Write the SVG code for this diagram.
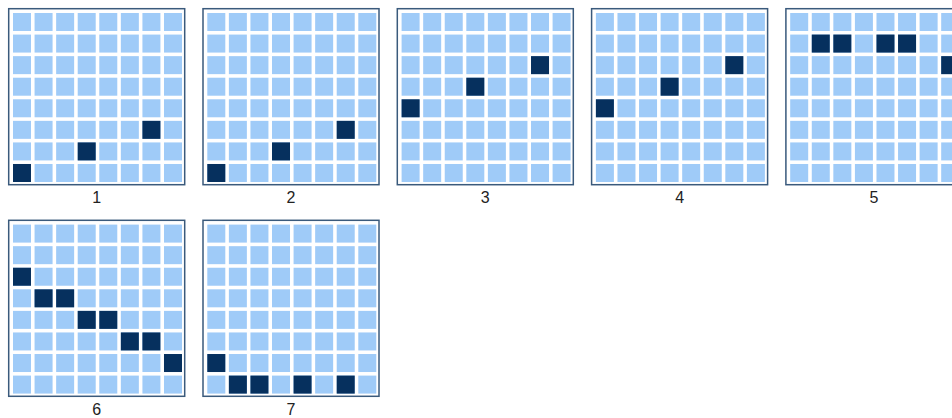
<svg xmlns="http://www.w3.org/2000/svg" xmlns:xlink="http://www.w3.org/1999/xlink" width="952" height="418" viewBox="0 0 952 418">
<style>
.frame{fill:#ffffff;stroke:#3a5a7c;stroke-width:1.5}
.c{fill:#9fcbf8}
.d{fill:#06305e}
.lbl{font-family:"Liberation Sans",Arial,sans-serif;font-size:16px;fill:#222222;text-anchor:middle}
</style>
<defs>
<g id="cells">
<rect class="c" x="4.3" y="4.3" width="18" height="18"/><rect class="c" x="25.87" y="4.3" width="18" height="18"/><rect class="c" x="47.44" y="4.3" width="18" height="18"/><rect class="c" x="69.01" y="4.3" width="18" height="18"/><rect class="c" x="90.58" y="4.3" width="18" height="18"/><rect class="c" x="112.15" y="4.3" width="18" height="18"/><rect class="c" x="133.72" y="4.3" width="18" height="18"/><rect class="c" x="155.29" y="4.3" width="18" height="18"/>
<rect class="c" x="4.3" y="25.87" width="18" height="18"/><rect class="c" x="25.87" y="25.87" width="18" height="18"/><rect class="c" x="47.44" y="25.87" width="18" height="18"/><rect class="c" x="69.01" y="25.87" width="18" height="18"/><rect class="c" x="90.58" y="25.87" width="18" height="18"/><rect class="c" x="112.15" y="25.87" width="18" height="18"/><rect class="c" x="133.72" y="25.87" width="18" height="18"/><rect class="c" x="155.29" y="25.87" width="18" height="18"/>
<rect class="c" x="4.3" y="47.44" width="18" height="18"/><rect class="c" x="25.87" y="47.44" width="18" height="18"/><rect class="c" x="47.44" y="47.44" width="18" height="18"/><rect class="c" x="69.01" y="47.44" width="18" height="18"/><rect class="c" x="90.58" y="47.44" width="18" height="18"/><rect class="c" x="112.15" y="47.44" width="18" height="18"/><rect class="c" x="133.72" y="47.44" width="18" height="18"/><rect class="c" x="155.29" y="47.44" width="18" height="18"/>
<rect class="c" x="4.3" y="69.01" width="18" height="18"/><rect class="c" x="25.87" y="69.01" width="18" height="18"/><rect class="c" x="47.44" y="69.01" width="18" height="18"/><rect class="c" x="69.01" y="69.01" width="18" height="18"/><rect class="c" x="90.58" y="69.01" width="18" height="18"/><rect class="c" x="112.15" y="69.01" width="18" height="18"/><rect class="c" x="133.72" y="69.01" width="18" height="18"/><rect class="c" x="155.29" y="69.01" width="18" height="18"/>
<rect class="c" x="4.3" y="90.58" width="18" height="18"/><rect class="c" x="25.87" y="90.58" width="18" height="18"/><rect class="c" x="47.44" y="90.58" width="18" height="18"/><rect class="c" x="69.01" y="90.58" width="18" height="18"/><rect class="c" x="90.58" y="90.58" width="18" height="18"/><rect class="c" x="112.15" y="90.58" width="18" height="18"/><rect class="c" x="133.72" y="90.58" width="18" height="18"/><rect class="c" x="155.29" y="90.58" width="18" height="18"/>
<rect class="c" x="4.3" y="112.15" width="18" height="18"/><rect class="c" x="25.87" y="112.15" width="18" height="18"/><rect class="c" x="47.44" y="112.15" width="18" height="18"/><rect class="c" x="69.01" y="112.15" width="18" height="18"/><rect class="c" x="90.58" y="112.15" width="18" height="18"/><rect class="c" x="112.15" y="112.15" width="18" height="18"/><rect class="c" x="133.72" y="112.15" width="18" height="18"/><rect class="c" x="155.29" y="112.15" width="18" height="18"/>
<rect class="c" x="4.3" y="133.72" width="18" height="18"/><rect class="c" x="25.87" y="133.72" width="18" height="18"/><rect class="c" x="47.44" y="133.72" width="18" height="18"/><rect class="c" x="69.01" y="133.72" width="18" height="18"/><rect class="c" x="90.58" y="133.72" width="18" height="18"/><rect class="c" x="112.15" y="133.72" width="18" height="18"/><rect class="c" x="133.72" y="133.72" width="18" height="18"/><rect class="c" x="155.29" y="133.72" width="18" height="18"/>
<rect class="c" x="4.3" y="155.29" width="18" height="18"/><rect class="c" x="25.87" y="155.29" width="18" height="18"/><rect class="c" x="47.44" y="155.29" width="18" height="18"/><rect class="c" x="69.01" y="155.29" width="18" height="18"/><rect class="c" x="90.58" y="155.29" width="18" height="18"/><rect class="c" x="112.15" y="155.29" width="18" height="18"/><rect class="c" x="133.72" y="155.29" width="18" height="18"/><rect class="c" x="155.29" y="155.29" width="18" height="18"/>
</g>
<rect id="frame" class="frame" x="0" y="0" width="176" height="176"/>
</defs>
<rect x="0" y="0" width="952" height="418" fill="#ffffff"/>
<g id="connectors"/>
<g id="panel1" transform="translate(8.7,8.7)">
<use xlink:href="#frame" href="#frame"/><use xlink:href="#cells" href="#cells"/>
<rect class="d" x="4.3" y="155.29" width="18" height="18"/><rect class="d" x="69.01" y="133.72" width="18" height="18"/><rect class="d" x="133.72" y="112.15" width="18" height="18"/>
<text class="lbl" x="88" y="194">1</text>
</g>
<g id="panel2" transform="translate(203,8.7)">
<use xlink:href="#frame" href="#frame"/><use xlink:href="#cells" href="#cells"/>
<rect class="d" x="4.3" y="155.29" width="18" height="18"/><rect class="d" x="69.01" y="133.72" width="18" height="18"/><rect class="d" x="133.72" y="112.15" width="18" height="18"/>
<text class="lbl" x="88" y="194">2</text>
</g>
<g id="panel3" transform="translate(397.3,8.7)">
<use xlink:href="#frame" href="#frame"/><use xlink:href="#cells" href="#cells"/>
<rect class="d" x="133.72" y="47.44" width="18" height="18"/><rect class="d" x="69.01" y="69.01" width="18" height="18"/><rect class="d" x="4.3" y="90.58" width="18" height="18"/>
<text class="lbl" x="88" y="194">3</text>
</g>
<g id="panel4" transform="translate(591.6,8.7)">
<use xlink:href="#frame" href="#frame"/><use xlink:href="#cells" href="#cells"/>
<rect class="d" x="133.72" y="47.44" width="18" height="18"/><rect class="d" x="69.01" y="69.01" width="18" height="18"/><rect class="d" x="4.3" y="90.58" width="18" height="18"/>
<text class="lbl" x="88" y="194">4</text>
</g>
<g id="panel5" transform="translate(785.9,8.7)">
<use xlink:href="#frame" href="#frame"/><use xlink:href="#cells" href="#cells"/>
<rect class="d" x="25.87" y="25.87" width="18" height="18"/><rect class="d" x="47.44" y="25.87" width="18" height="18"/><rect class="d" x="90.58" y="25.87" width="18" height="18"/><rect class="d" x="112.15" y="25.87" width="18" height="18"/><rect class="d" x="155.29" y="47.44" width="18" height="18"/>
<text class="lbl" x="88" y="194">5</text>
</g>
<g id="panel6" transform="translate(8.7,220.3)">
<use xlink:href="#frame" href="#frame"/><use xlink:href="#cells" href="#cells"/>
<rect class="d" x="4.3" y="47.44" width="18" height="18"/><rect class="d" x="25.87" y="69.01" width="18" height="18"/><rect class="d" x="47.44" y="69.01" width="18" height="18"/><rect class="d" x="69.01" y="90.58" width="18" height="18"/><rect class="d" x="90.58" y="90.58" width="18" height="18"/><rect class="d" x="112.15" y="112.15" width="18" height="18"/><rect class="d" x="133.72" y="112.15" width="18" height="18"/><rect class="d" x="155.29" y="133.72" width="18" height="18"/>
<text class="lbl" x="88" y="194.5">6</text>
</g>
<g id="panel7" transform="translate(203,220.3)">
<use xlink:href="#frame" href="#frame"/><use xlink:href="#cells" href="#cells"/>
<rect class="d" x="4.3" y="133.72" width="18" height="18"/><rect class="d" x="25.87" y="155.29" width="18" height="18"/><rect class="d" x="47.44" y="155.29" width="18" height="18"/><rect class="d" x="90.58" y="155.29" width="18" height="18"/><rect class="d" x="133.72" y="155.29" width="18" height="18"/>
<text class="lbl" x="88" y="194.5">7</text>
</g>
</svg>
